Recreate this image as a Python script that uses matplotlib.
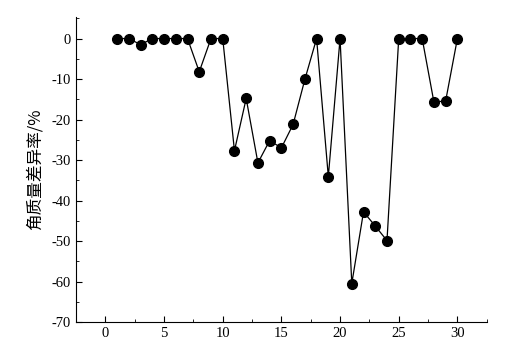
import matplotlib
matplotlib.use("Agg")
import matplotlib.pyplot as plt
from matplotlib.ticker import MultipleLocator

plt.rcParams["font.family"] = ["Liberation Serif", "Noto Sans CJK SC"]
plt.rcParams["axes.unicode_minus"] = False

sample = list(range(1, 31))
diff_rate = [0, 0, -1.5, 0, 0, 0, 0, -8.2, 0, 0,
             -27.7, -14.8, -30.7, -25.2, -27.0, -21.2, -10.1, 0, -34.1, 0,
             -60.5, -42.8, -46.3, -49.9, 0, 0, 0, -15.7, -15.4, 0]

fig = plt.figure(figsize=(5.07, 3.5), dpi=100)
ax = fig.add_axes([0.15, 0.08, 0.81, 0.87])
ax.plot(sample, diff_rate, color="black", lw=0.9, marker="o", ms=7,
        markerfacecolor="black", markeredgecolor="black")

ax.set_xlim(-2.5, 32.5)
ax.set_ylim(-70, 5.2)
ax.xaxis.set_major_locator(MultipleLocator(5))
ax.xaxis.set_minor_locator(MultipleLocator(2.5))
ax.yaxis.set_major_locator(MultipleLocator(10))
ax.yaxis.set_minor_locator(MultipleLocator(5))
ax.tick_params(which="both", direction="in", labelsize=10.5)
ax.tick_params(which="major", length=4)
ax.tick_params(which="minor", length=2)
for s in ("top", "right"):
    ax.spines[s].set_visible(False)
ax.set_ylabel("角质量差异率/%", fontsize=12, family=["Noto Sans CJK SC"], labelpad=6)

fig.savefig("out.png", dpi=100)
